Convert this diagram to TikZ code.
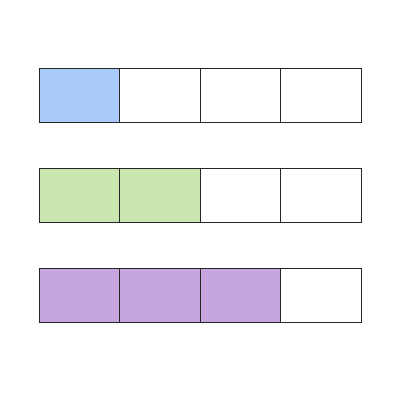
\documentclass[tikz,border=0pt]{standalone}
\begin{document}
\begin{tikzpicture}[x=1pt,y=-1pt,
  cell/.style={draw=black!85,line width=1pt,minimum width=80.5pt,minimum height=54pt,inner sep=0pt,outer sep=0pt,anchor=north west}]
\definecolor{cblue}{HTML}{A8CBFB}
\definecolor{cgreen}{HTML}{CCE6B2}
\definecolor{cpurple}{HTML}{C7A6E0}
\useasboundingbox[fill=white] (0,0) rectangle (400,400);
\foreach \r/\y/\n/\c in {1/68/1/cblue,2/168/2/cgreen,3/268/3/cpurple}{
  \foreach \i in {0,1,2,3}{
    \pgfmathtruncatemacro{\filled}{\i<\n ? 1 : 0}
    \ifnum\filled=1
      \node[cell,fill=\c] (r\r c\i) at (39+80.5*\i,\y) {};
    \else
      \node[cell,fill=white] (r\r c\i) at (39+80.5*\i,\y) {};
    \fi
  }
}
\end{tikzpicture}
\end{document}
